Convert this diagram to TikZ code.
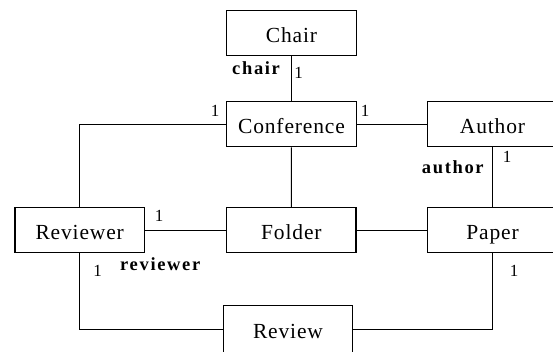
\documentclass[tikz,border=0pt]{standalone}
\usepackage{fontspec}
\setmainfont{Liberation Serif}[LetterSpace=4]
\newfontfamily\rolefont{Liberation Serif}[LetterSpace=9]
\begin{document}
\begin{tikzpicture}[x=1pt,y=-1pt,
  box/.style={draw,line width=1.2pt,minimum width=129.3pt,minimum height=45pt,inner sep=0pt,text height=23pt,text depth=5pt,font=\fontsize{21.5}{23}\selectfont},
  conn/.style={line width=1pt},
  mult/.style={inner sep=0pt,font=\fontsize{17}{19}\selectfont},
  role/.style={inner sep=0pt,anchor=base west,font=\fontsize{18.5}{20}\rolefont\bfseries}]
\useasboundingbox (0,0) rectangle (553,351);
\node[box] (chair) at (291.5,33.2) {Chair};
\node[box] (conf) at (291.5,124.2) {Conference};
\node[box,minimum width=130pt] (author) at (492.5,124.2) {Author};
\node[box] (reviewer) at (79.7,230.2) {Reviewer};
\node[box] (folder) at (291.4,230.2) {Folder};
\node[box,minimum width=130pt] (paper) at (492.5,230.2) {Paper};
\node[box,minimum height=47pt] (review) at (288,329.3) {Review};
\draw[conn] (chair) -- (conf);
\draw[conn] (conf.west) -| (reviewer.north);
\draw[conn] (conf) -- (author);
\draw[conn] (conf) -- (folder);
\draw[conn] (author) -- (paper);
\draw[conn] (reviewer) -- (folder);
\draw[conn] (folder) -- (paper);
\draw[conn] (reviewer.south) |- (review.west);
\draw[conn] (review.east) -| (paper.south);
\node[role] (lchair) at (232,74) {chair};
\node[mult] (m1) at (298.5,72.5) {1};
\node[mult] (m2) at (215,110.5) {1};
\node[mult] (m3) at (365,111) {1};
\node[role] (lauthor) at (421.7,173) {author};
\node[mult] (m4) at (507,157) {1};
\node[mult] (m5) at (159,216) {1};
\node[role] (lreviewer) at (120,270.7) {reviewer};
\node[mult] (m6) at (97.5,271) {1};
\node[mult] (m7) at (514,271) {1};
\end{tikzpicture}
\end{document}
